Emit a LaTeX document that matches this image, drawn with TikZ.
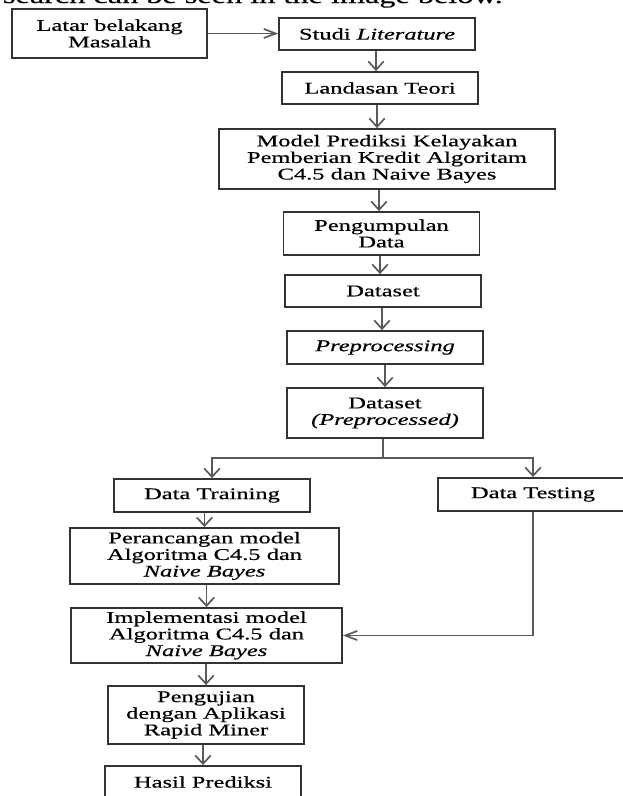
\documentclass[tikz,border=0pt]{standalone}
\usepackage{fontspec}
\setmainfont[FakeStretch=1.5, FakeBold=0.6]{Liberation Serif}
\usetikzlibrary{arrows.meta}

\begin{document}
\begin{tikzpicture}[x=0.025cm, y=-0.025cm,
  kotak/.style={draw=black!80, line width=1.3pt, align=center, inner sep=0pt,
    minimum width=4.9cm, minimum height=0.8cm, font=\fontsize{11.6}{11.8}\selectfont},
  panah/.style={draw=black!65, line width=1.2pt, -{Straight Barb[length=6pt,width=11pt]}},
  panahh/.style={draw=black!65, line width=1.2pt, -{Straight Barb[length=8.5pt,width=6.5pt]}},
  garis/.style={draw=black!65, line width=1.2pt}]
\useasboundingbox (0,0) rectangle (623,796);
\clip (0,0) rectangle (623,796);

\node[anchor=base west, font=\fontsize{15.3}{17}\selectfont] (judul) at (-2,3) {search can be seen in the image below.};

% alur utama
\node[kotak, minimum width=4.875cm, minimum height=1.225cm] (latar) at (109.5,33.5) {Latar belakang\\Masalah};
\node[kotak] (studi) at (377,34) {Studi \textit{Literature}};
\node[kotak] (landasan) at (380,88) {Landasan Teori};
\node[kotak, minimum width=8.4cm, minimum height=1.5cm] (model) at (387,159) {Model Prediksi Kelayakan\\Pemberian Kredit Algoritam\\C4.5 dan Naive Bayes};
\node[kotak, minimum height=1.075cm] (kumpul) at (381.5,233.5) {Pengumpulan\\Data};
\node[kotak] (dataset) at (383,291) {Dataset};
\node[kotak, minimum height=0.825cm] (prepro) at (385,347.5) {\textit{Preprocessing}};
\node[kotak, minimum height=1.25cm] (datapre) at (385,413) {Dataset\\\textit{(Preprocessed)}};

% cabang
\node[kotak, minimum height=0.825cm] (training) at (212,495.5) {Data Training};
\node[kotak, minimum width=4.75cm, minimum height=0.825cm] (testing) at (533,494.5) {Data Testing};
\node[kotak, minimum width=6.725cm, minimum height=1.4cm] (rancang) at (204.5,556) {Perancangan model\\Algoritma C4.5 dan\\\textit{Naive Bayes}};
\node[kotak, minimum width=6.775cm, minimum height=1.375cm] (implementasi) at (206.5,635.5) {Implementasi model\\Algoritma C4.5 dan\\\textit{Naive Bayes}};
\node[kotak, minimum height=1.45cm] (uji) at (206,715) {Pengujian\\dengan Aplikasi\\Rapid Miner};
\node[kotak] (hasil) at (203,782) {Hasil Prediksi};

\coordinate (split) at (383,458);

\draw[panahh] (latar) -- (latar -| studi.west);
\draw[panah] (studi.south -| 376,0) -- (376,0 |- landasan.north);
\draw[panah] (landasan.south -| 377,0) -- (377,0 |- model.north);
\draw[panah] (model.south -| 379,0) -- (379,0 |- kumpul.north);
\draw[panah] (kumpul.south -| 380,0) -- (380,0 |- dataset.north);
\draw[panah] (dataset.south -| 382,0) -- (382,0 |- prepro.north);
\draw[panah] (prepro) -- (datapre);
\draw[garis] (datapre.south -| split) -- (split);
\draw[panah] (split) -| (training);
\draw[panah] (split) -| (testing);
\draw[panah] (training.south -| rancang) -- (rancang);
\draw[panah] (rancang.south -| implementasi) -- (implementasi);
\draw[panah] (implementasi.south -| uji) -- (uji);
\draw[panah] (uji.south -| hasil) -- (hasil);
\draw[panahh] (testing) |- (implementasi);
\end{tikzpicture}
\end{document}
